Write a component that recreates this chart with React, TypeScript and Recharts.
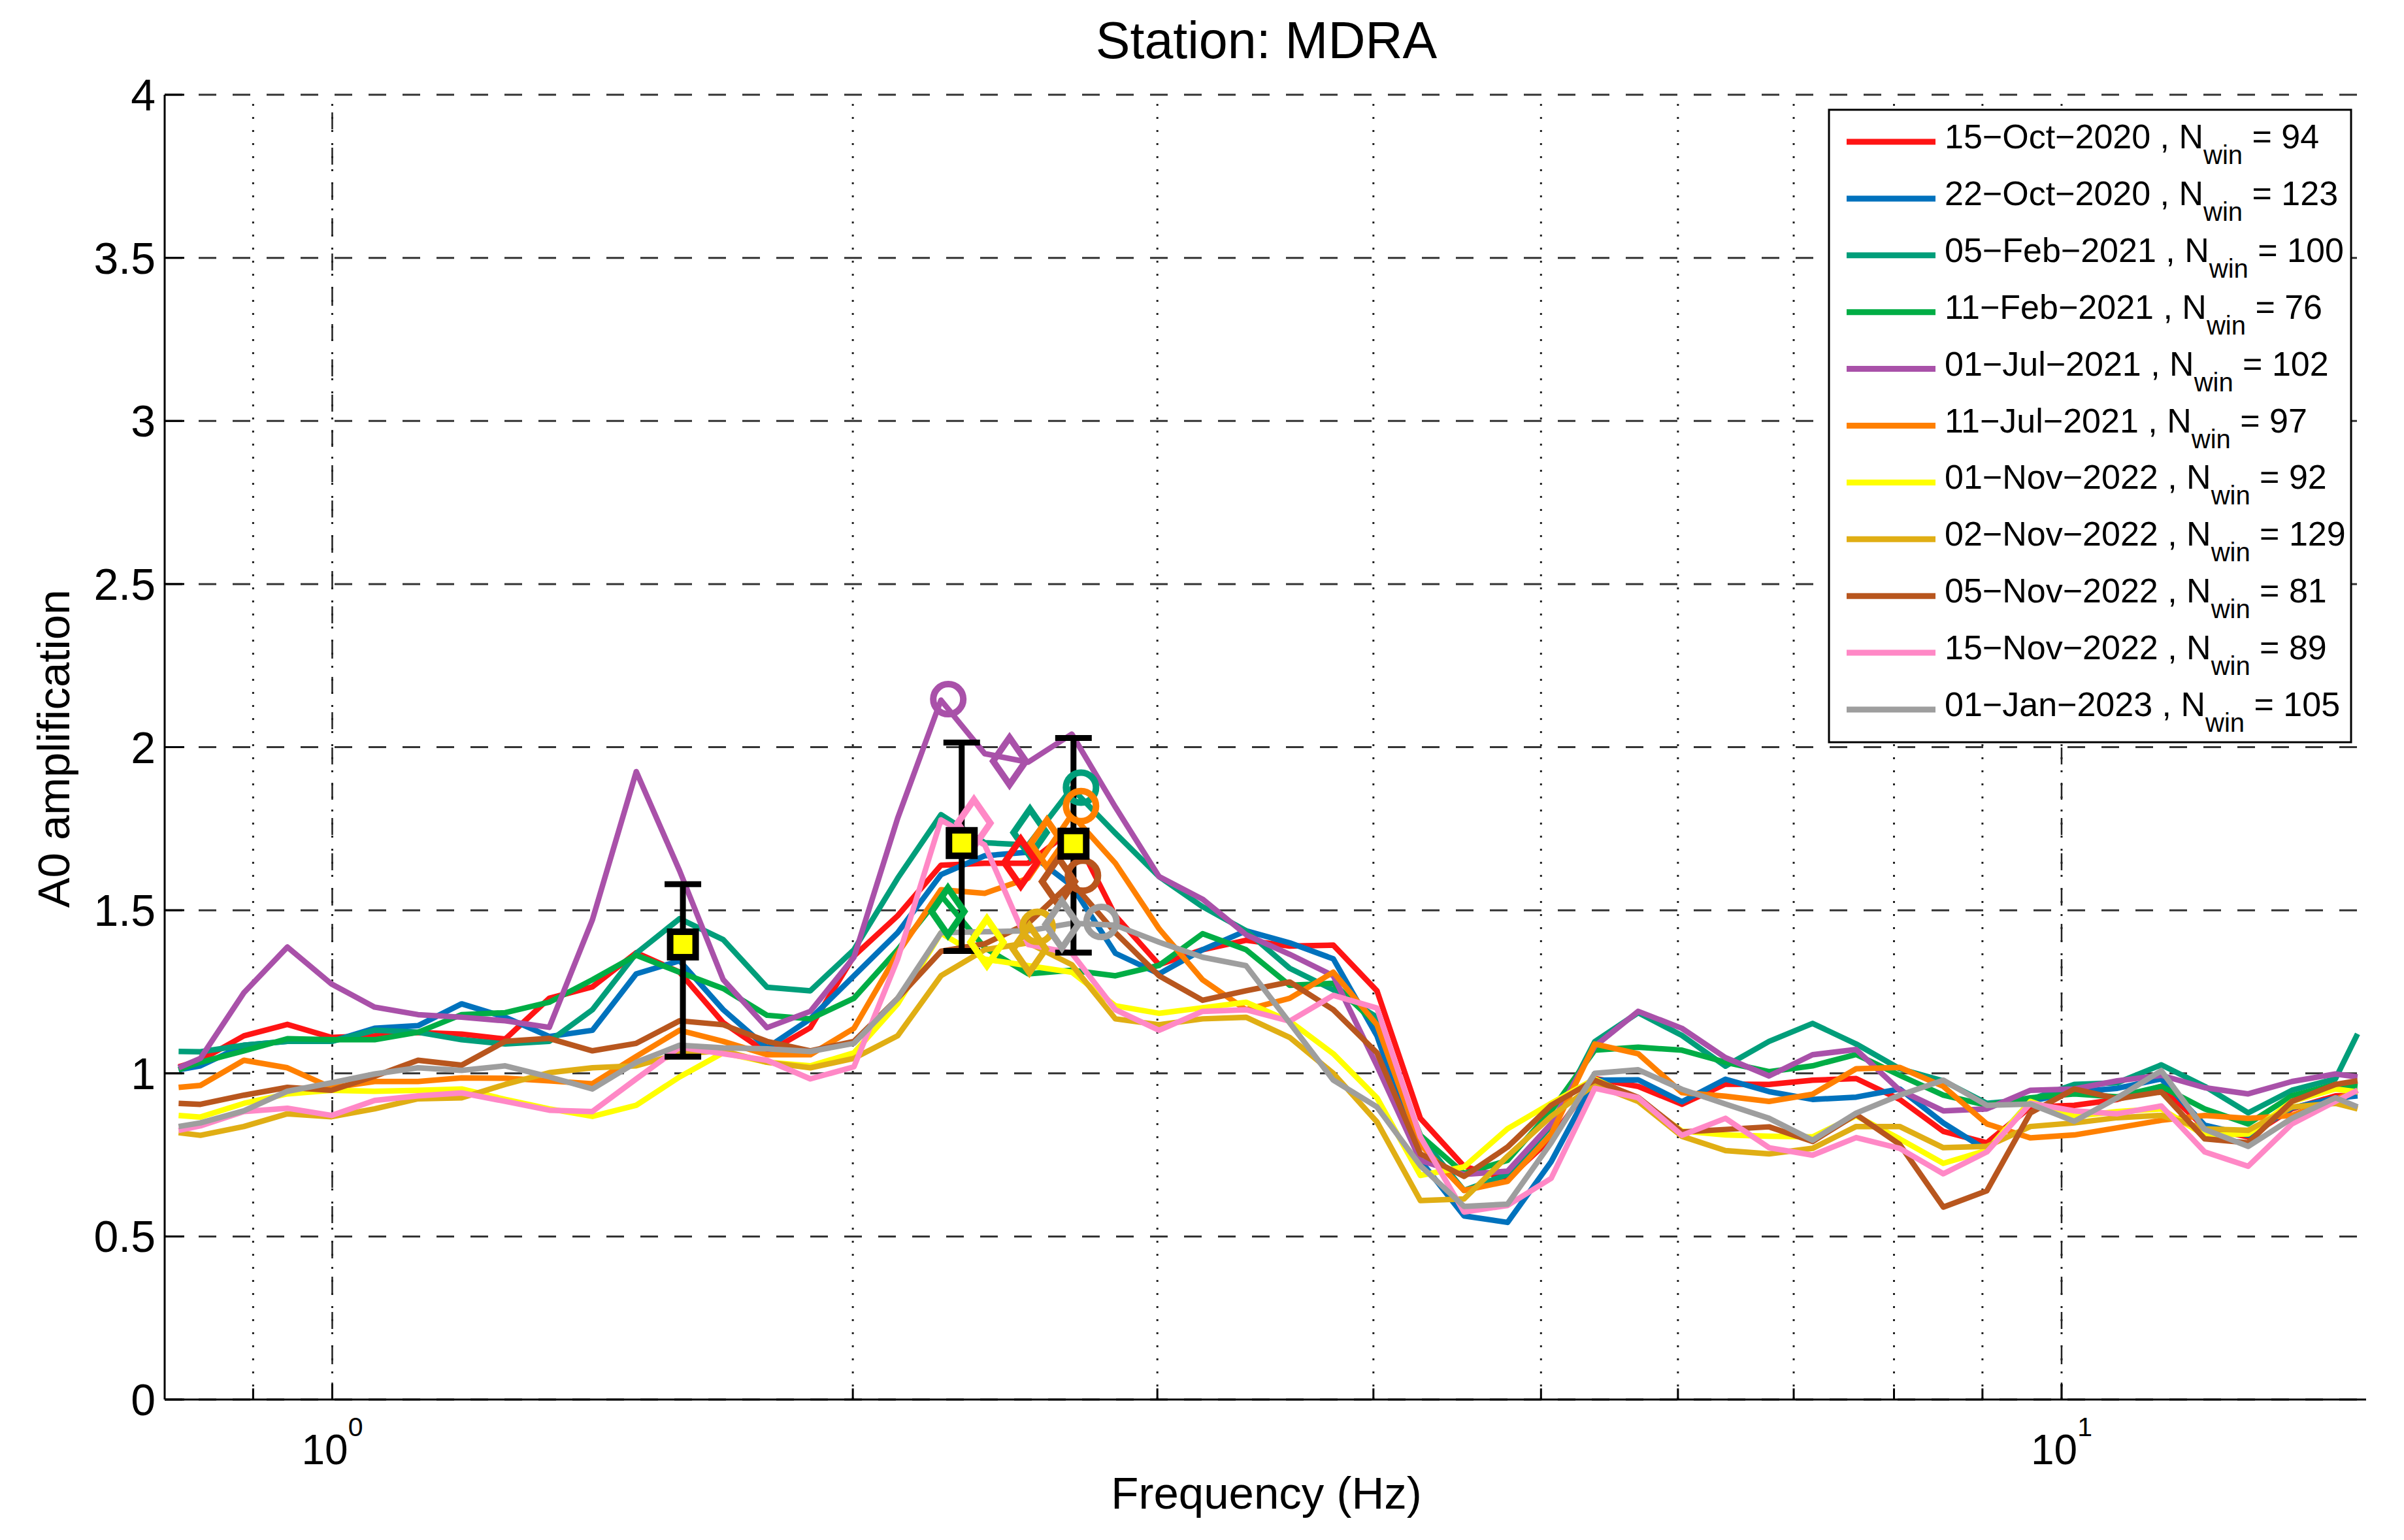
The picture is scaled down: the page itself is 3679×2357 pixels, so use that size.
import React from "react"
import { ComposedChart, Line, Scatter, XAxis, YAxis, CartesianGrid, ReferenceLine, ErrorBar } from "recharts"

// frequency samples (Hz)
const freqHz = [
  0.815, 0.839, 0.889, 0.942, 0.999, 1.058, 1.121, 1.188, 1.259, 1.335, 1.414, 1.499, 1.588,
  1.683, 1.784, 1.89, 2.003, 2.123, 2.249, 2.384, 2.526, 2.677, 2.837, 3.007, 3.186, 3.376,
  3.578, 3.792, 4.019, 4.258, 4.513, 4.782, 5.068, 5.371, 5.691, 6.032, 6.392, 6.774, 7.178,
  7.607, 8.061, 8.543, 9.053, 9.594, 10.17, 10.77, 11.42, 12.1, 12.82, 13.59, 14.4, 14.83,
]

const amp15Oct2020 = [
  1.02, 1.04, 1.115, 1.15, 1.11, 1.115, 1.125, 1.12, 1.105, 1.23, 1.265, 1.37, 1.31, 1.155, 1.063,
  1.14, 1.36, 1.483, 1.638, 1.644, 1.644, 1.747, 1.483, 1.333, 1.379, 1.408, 1.39, 1.393, 1.253,
  0.862, 0.715, 0.676, 0.8, 0.984, 0.96, 0.905, 0.967, 0.966, 0.979, 0.984, 0.92, 0.822, 0.787,
  0.897, 0.902, 0.92, 0.96, 0.833, 0.805, 0.891, 0.931, 0.933,
]
const amp22Oct2020 = [
  1.011, 1.023, 1.086, 1.098, 1.098, 1.138, 1.146, 1.213, 1.172, 1.113, 1.132, 1.305, 1.345, 1.195,
  1.078, 1.167, 1.299, 1.431, 1.609, 1.667, 1.678, 1.575, 1.368, 1.305, 1.379, 1.437, 1.4, 1.351,
  1.115, 0.733, 0.563, 0.543, 0.729, 0.979, 0.98, 0.913, 0.982, 0.944, 0.92, 0.927, 0.952, 0.848,
  0.764, 0.914, 0.943, 0.954, 0.983, 0.841, 0.81, 0.894, 0.924, 0.931,
]
const amp05Feb2021 = [
  1.067, 1.066, 1.086, 1.098, 1.098, 1.132, 1.126, 1.103, 1.09, 1.098, 1.195, 1.368, 1.474, 1.41,
  1.264, 1.253, 1.379, 1.598, 1.793, 1.707, 1.7, 1.874, 1.736, 1.603, 1.511, 1.437, 1.322, 1.256,
  1.172, 0.805, 0.641, 0.69, 0.839, 1.097, 1.186, 1.116, 1.022, 1.098, 1.153, 1.09, 1.014, 0.977,
  0.908, 0.92, 0.966, 0.971, 1.026, 0.96, 0.879, 0.948, 0.983, 1.121,
]
const amp11Feb2021 = [
  1.011, 1.034, 1.069, 1.106, 1.103, 1.103, 1.126, 1.18, 1.186, 1.218, 1.287, 1.362, 1.31, 1.26,
  1.178, 1.167, 1.23, 1.379, 1.546, 1.385, 1.305, 1.316, 1.299, 1.331, 1.428, 1.379, 1.27, 1.276,
  1.149, 0.81, 0.693, 0.733, 0.885, 1.071, 1.08, 1.071, 1.034, 1.005, 1.023, 1.058, 0.994, 0.933,
  0.902, 0.925, 0.937, 0.928, 0.96, 0.891, 0.845, 0.931, 0.966, 0.96,
]
const amp01Jul2021 = [
  1.017, 1.046, 1.247, 1.387, 1.274, 1.203, 1.18, 1.172, 1.161, 1.141, 1.471, 1.925, 1.621, 1.287,
  1.14, 1.19, 1.356, 1.782, 2.144, 1.98, 1.954, 2.04, 1.816, 1.603, 1.534, 1.425, 1.365, 1.299,
  1.023, 0.733, 0.69, 0.7, 0.845, 1.083, 1.19, 1.138, 1.048, 0.992, 1.057, 1.073, 0.948, 0.885,
  0.891, 0.948, 0.952, 0.977, 0.994, 0.956, 0.937, 0.975, 0.998, 0.989,
]
const amp11Jul2021 = [
  0.957, 0.963, 1.04, 1.017, 0.956, 0.975, 0.975, 0.986, 0.985, 0.977, 0.968, 1.052, 1.132, 1.098,
  1.057, 1.057, 1.138, 1.368, 1.563, 1.552, 1.598, 1.793, 1.644, 1.443, 1.287, 1.195, 1.23, 1.31,
  1.149, 0.782, 0.641, 0.669, 0.813, 1.09, 1.06, 0.941, 0.93, 0.914, 0.936, 1.014, 1.018, 0.96,
  0.845, 0.802, 0.811, 0.833, 0.856, 0.871, 0.862, 0.871, 0.92, 0.948,
]
const amp01Nov2022 = [
  0.871, 0.866, 0.908, 0.937, 0.948, 0.945, 0.948, 0.952, 0.92, 0.891, 0.868, 0.902, 0.989, 1.063,
  1.034, 1.023, 1.063, 1.213, 1.43, 1.35, 1.33, 1.31, 1.207, 1.184, 1.201, 1.218, 1.16, 1.06,
  0.925, 0.687, 0.713, 0.83, 0.908, 0.983, 0.92, 0.823, 0.811, 0.807, 0.805, 0.87, 0.799, 0.724,
  0.764, 0.914, 0.868, 0.883, 0.891, 0.81, 0.814, 0.914, 0.952, 0.943,
]
const amp02Nov2022 = [
  0.818, 0.81, 0.837, 0.876, 0.867, 0.891, 0.922, 0.925, 0.966, 1.002, 1.017, 1.023, 1.06, 1.069,
  1.034, 1.017, 1.046, 1.115, 1.299, 1.379, 1.4, 1.333, 1.167, 1.149, 1.167, 1.172, 1.11, 1.0,
  0.851, 0.61, 0.615, 0.746, 0.868, 0.966, 0.914, 0.807, 0.763, 0.753, 0.77, 0.837, 0.837, 0.772,
  0.776, 0.837, 0.848, 0.864, 0.871, 0.83, 0.825, 0.897, 0.908, 0.891,
]
const amp05Nov2022 = [
  0.908, 0.905, 0.933, 0.957, 0.948, 0.991, 1.04, 1.025, 1.098, 1.107, 1.069, 1.092, 1.161, 1.149,
  1.098, 1.069, 1.098, 1.23, 1.374, 1.397, 1.46, 1.586, 1.431, 1.299, 1.224, 1.253, 1.28, 1.195,
  1.063, 0.753, 0.684, 0.774, 0.902, 0.979, 0.926, 0.82, 0.828, 0.836, 0.791, 0.874, 0.782, 0.59,
  0.64, 0.879, 0.952, 0.922, 0.943, 0.799, 0.787, 0.914, 0.966, 0.977,
]
const amp15Nov2022 = [
  0.825, 0.839, 0.883, 0.893, 0.871, 0.917, 0.931, 0.94, 0.914, 0.887, 0.883, 0.983, 1.08, 1.06,
  1.04, 0.983, 1.02, 1.35, 1.777, 1.7, 1.395, 1.368, 1.195, 1.132, 1.19, 1.195, 1.16, 1.239, 1.2,
  0.805, 0.575, 0.595, 0.678, 0.954, 0.925, 0.81, 0.862, 0.772, 0.749, 0.803, 0.77, 0.692, 0.759,
  0.908, 0.885, 0.876, 0.9, 0.759, 0.715, 0.845, 0.914, 0.948,
]
const amp01Jan2023 = [
  0.837, 0.848, 0.885, 0.945, 0.971, 0.998, 1.017, 1.009, 1.023, 0.989, 0.952, 1.034, 1.086, 1.078,
  1.075, 1.067, 1.092, 1.23, 1.431, 1.434, 1.437, 1.46, 1.454, 1.402, 1.356, 1.33, 1.155, 0.979,
  0.897, 0.717, 0.592, 0.599, 0.787, 1.0, 1.011, 0.951, 0.906, 0.862, 0.795, 0.878, 0.933, 0.979,
  0.902, 0.906, 0.853, 0.925, 1.008, 0.828, 0.776, 0.862, 0.925, 0.897,
]

const seriesAmps = [
  amp15Oct2020, amp22Oct2020, amp05Feb2021, amp11Feb2021, amp01Jul2021, amp11Jul2021,
  amp01Nov2022, amp02Nov2022, amp05Nov2022, amp15Nov2022, amp01Jan2023,
]
const seriesDates = [
  "15\u2212Oct\u22122020", "22\u2212Oct\u22122020", "05\u2212Feb\u22122021", "11\u2212Feb\u22122021",
  "01\u2212Jul\u22122021", "11\u2212Jul\u22122021", "01\u2212Nov\u22122022", "02\u2212Nov\u22122022",
  "05\u2212Nov\u22122022", "15\u2212Nov\u22122022", "01\u2212Jan\u22122023",
]
const nWin = [94, 123, 100, 76, 102, 97, 92, 129, 81, 89, 105]

// peak picks: circles and diamonds (series index, frequency, amplitude)
const circleSeries = [4, 2, 5, 8, 10, 7]
const circleFreq = [2.271, 2.71, 2.71, 2.717, 2.785, 2.558]
const circleAmp = [2.147, 1.876, 1.819, 1.606, 1.464, 1.449]

const diamondSeries = [4, 2, 5, 8, 10, 3, 9, 7, 6, 0]
const diamondFreq = [2.464, 2.532, 2.59, 2.63, 2.642, 2.27, 2.35, 2.53, 2.391, 2.501]
const diamondAmp = [1.957, 1.738, 1.704, 1.588, 1.456, 1.496, 1.767, 1.381, 1.402, 1.646]

// mean peaks with error bars
const peakFreq = [1.595, 2.312, 2.683]
const peakMean = [1.395, 1.706, 1.704]
const peakLow = [1.051, 1.375, 1.37]
const peakHigh = [1.58, 2.014, 2.028]

const yTicks = [0, 0.5, 1, 1.5, 2, 2.5, 3, 3.5, 4]
const xTicks = [0.9, 1, 2, 3, 4, 5, 6, 7, 8, 9, 10]
const minorX = [0.9, 2, 3, 4, 5, 6, 7, 8, 9]
const majorX = [1, 10]

// styles
const colors = [
  "#FF1414", "#0072BD", "#009E7A", "#00AD45", "#A951A9", "#FF8000",
  "#FFFF00", "#E0AE14", "#B8561E", "#FF88C6", "#9E9E9E",
]
const FONT = "'Liberation Sans', Arial, Helvetica, sans-serif"
const W = 3663
const H = 2341

const rows = freqHz.map((f, i) => {
  const row: Record<string, number> = { f }
  seriesAmps.forEach((s, k) => {
    row["s" + k] = s[i]
  })
  return row
})

const errRows = peakFreq.map((f, i) => ({
  f,
  v: peakMean[i],
  err: [peakMean[i] - peakLow[i], peakHigh[i] - peakMean[i]],
}))

function XTick(props: any) {
  const { x, y, payload } = props
  const v = payload.value
  const major = v === 1 || v === 10
  return (
    <g>
      <line x1={x} y1={y} x2={x} y2={y - (major ? 24 : 17)} stroke="#000" strokeWidth={3} />
      {major && (
        <text x={x} y={y + 99} textAnchor="middle" fontSize={64} fontFamily={FONT} fill="#000">
          10
          <tspan dy={-43} fontSize={41}>
            {v === 1 ? "0" : "1"}
          </tspan>
        </text>
      )}
    </g>
  )
}

function YTick(props: any) {
  const { x, y, payload } = props
  return (
    <g>
      <line x1={x} y1={y} x2={x + 30} y2={y} stroke="#000" strokeWidth={3} />
      <text x={x - 14} y={y} dy={24} textAnchor="end" fontSize={68} fontFamily={FONT} fill="#000">
        {String(payload.value)}
      </text>
    </g>
  )
}

const circleShape = (color: string) => (p: any) => (
  <circle cx={p.cx} cy={p.cy} r={23} fill="none" stroke={color} strokeWidth={10} />
)
const diamondShape = (color: string) => (p: any) => (
  <polygon
    points={`${p.cx},${p.cy - 36} ${p.cx + 25},${p.cy} ${p.cx},${p.cy + 36} ${p.cx - 25},${p.cy}`}
    fill="none"
    stroke={color}
    strokeWidth={10}
    strokeLinejoin="miter"
  />
)
const squareShape = (p: any) => (
  <rect x={p.cx - 19.5} y={p.cy - 19.5} width={39} height={39} fill="#FFFF00" stroke="#000" strokeWidth={10} />
)

export default function App() {
  const legendX = 2791
  const legendY = 160
  const rowH = 86.9
  return (
    <div style={{ position: "relative", width: W, height: H, background: "#fff" }}>
      <ComposedChart width={W} height={H} data={rows} margin={{ top: 137, right: 50, bottom: 0, left: 0 }}>
        <CartesianGrid vertical={false} stroke="#333" strokeWidth={3} strokeDasharray="27 25" />
        {minorX.map((v) => (
          <ReferenceLine key={"m" + v} x={v} stroke="#222" strokeWidth={3} strokeDasharray="3 17" />
        ))}
        {majorX.map((v) => (
          <ReferenceLine key={"d" + v} x={v} stroke="#222" strokeWidth={2.5} strokeDasharray="26 28" />
        ))}
        {majorX.map((v) => (
          <ReferenceLine key={"p" + v} x={v} stroke="#222" strokeWidth={3} strokeDasharray="3 17" />
        ))}
        <XAxis
          dataKey="f"
          type="number"
          scale="log"
          domain={[0.8, 15]}
          allowDataOverflow
          ticks={xTicks}
          interval={0}
          tick={XTick}
          tickLine={false}
          tickSize={0}
          tickMargin={0}
          height={207}
          axisLine={{ stroke: "#000", strokeWidth: 3 }}
        />
        <YAxis
          type="number"
          domain={[0, 4]}
          allowDataOverflow
          ticks={yTicks}
          interval={0}
          tick={YTick}
          tickLine={false}
          tickSize={0}
          tickMargin={0}
          width={244}
          axisLine={{ stroke: "#000", strokeWidth: 3 }}
        />
        {seriesAmps.map((_, k) => (
          <Line
            key={"s" + k}
            type="linear"
            dataKey={"s" + k}
            stroke={colors[k]}
            strokeWidth={8.5}
            strokeLinejoin="round"
            dot={false}
            activeDot={false}
            isAnimationActive={false}
          />
        ))}
        {circleSeries.map((s, i) => (
          <Scatter
            key={"c" + i}
            data={[{ f: circleFreq[i], v: circleAmp[i] }]}
            dataKey="v"
            shape={circleShape(colors[s])}
            isAnimationActive={false}
          />
        ))}
        {diamondSeries.map((s, i) => (
          <Scatter
            key={"dm" + i}
            data={[{ f: diamondFreq[i], v: diamondAmp[i] }]}
            dataKey="v"
            shape={diamondShape(colors[s])}
            isAnimationActive={false}
          />
        ))}
        <Scatter data={errRows} dataKey="v" shape={squareShape} isAnimationActive={false}>
          <ErrorBar dataKey="err" direction="y" width={28} strokeWidth={9} stroke="#000" isAnimationActive={false} />
        </Scatter>
      </ComposedChart>
      <svg
        width={W}
        height={H}
        style={{ position: "absolute", left: 0, top: 0, pointerEvents: "none" }}
        fontFamily={FONT}
      >
        <text x={1930} y={81} textAnchor="middle" fontSize={79} fill="#000">
          Station: MDRA
        </text>
        <text x={1930} y={2301} textAnchor="middle" fontSize={69} fill="#000">
          Frequency (Hz)
        </text>
        <text x={98} y={1138} transform="rotate(-90 98 1138)" textAnchor="middle" fontSize={69} fill="#000">
          A0 amplification
        </text>
        <rect x={legendX} y={legendY} width={799} height={968} fill="#fff" stroke="#000" strokeWidth={3} />
        {seriesDates.map((d, i) => {
          const cy = legendY + 49 + i * rowH
          return (
            <g key={"l" + i}>
              <line x1={legendX + 27} x2={legendX + 163} y1={cy} y2={cy} stroke={colors[i]} strokeWidth={9} />
              <text x={legendX + 177} y={cy + 10} fontSize={52} fill="#000">
                {d + " , N"}
                <tspan dy={24} fontSize={40}>
                  win
                </tspan>
                <tspan dy={-24}>{" = " + nWin[i]}</tspan>
              </text>
            </g>
          )
        })}
      </svg>
    </div>
  )
}
